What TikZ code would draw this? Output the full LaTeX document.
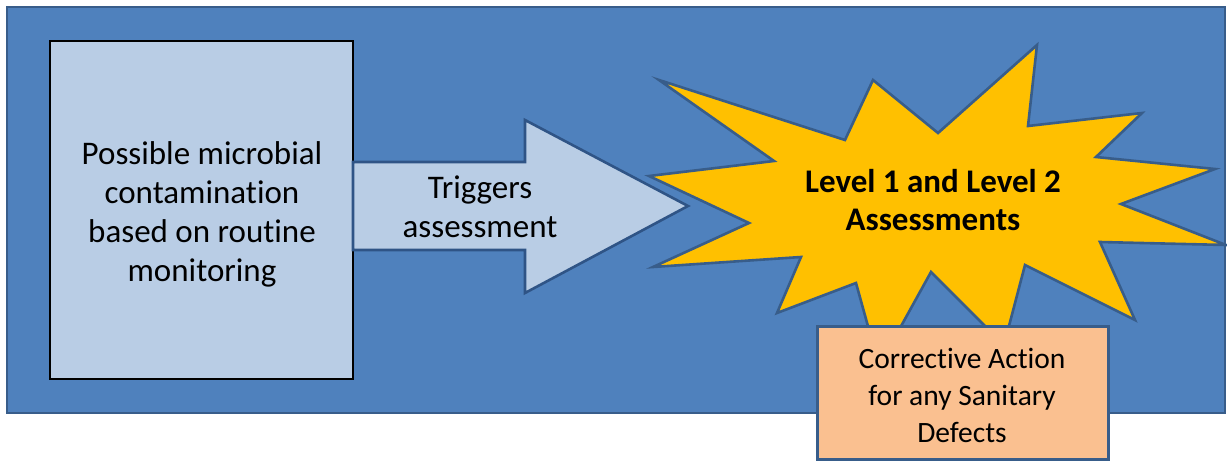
\documentclass[tikz,border=0pt]{standalone}
\usepackage{fontspec}
\setmainfont[RawFeature={-liga;-clig;-dlig;-calt}]{Carlito}
\definecolor{bgblue}{HTML}{4F81BD}
\definecolor{bgborder}{HTML}{385D8A}
\definecolor{lightblue}{HTML}{B9CDE5}
\definecolor{arrowborder}{HTML}{2F5486}
\definecolor{stargold}{HTML}{FFC000}
\definecolor{peach}{HTML}{FAC090}
\tikzset{
  bgpanel/.style={fill=bgblue, draw=bgborder, line width=2pt},
  sourcebox/.style={fill=lightblue, draw=black, line width=1.6pt},
  arrowshape/.style={fill=lightblue, draw=arrowborder, line width=2.6pt, line join=miter},
  starshape/.style={fill=stargold, draw=bgborder, line width=2.6pt, line join=miter},
  actionbox/.style={fill=peach, draw=bgborder, line width=3pt},
  txt/.style={align=center, font=\fontsize{33}{39}\selectfont, inner sep=0pt},
  txtsmall/.style={align=center, font=\fontsize{29.5}{37}\selectfont, inner sep=0pt},
}
\begin{document}
\begin{tikzpicture}[x=1pt,y=-1pt]
\useasboundingbox (0,0) rectangle (1227,461);
% background panel
\draw[bgpanel] (7,7) rectangle (1225,413);
% source box
\draw[sourcebox] (50,41) rectangle (353,379);
\node[txt] (src) at (202,214) {Possible microbial\\contamination\\based on routine\\monitoring};
% starburst
\draw[starshape] (659,80) -- (845,140) -- (873,80) -- (938,133) -- (1037,45) -- (1028,126)
  -- (1142,113) -- (1096,157) -- (1215,169) -- (1121,204) -- (1226,245) -- (1100,242)
  -- (1135,320) -- (1025,265) -- (1004,345) -- (931,272) -- (879,366) -- (856,283)
  -- (777,313) -- (801,257) -- (653,267) -- (749,223) -- (649,176) -- (774,161) -- cycle;
\node[txt, font=\fontsize{33}{38}\selectfont\bfseries] (star) at (933,200) {Level 1 and Level 2\\Assessments};
% arrow
\draw[arrowshape] (353,162) -- (525,162) -- (525,120) -- (688,206) -- (525,293) -- (525,250) -- (353,250) -- cycle;
\node[txt] (trig) at (480,207) {Triggers\\assessment};
% corrective action box
\draw[actionbox] (817,326) rectangle (1108,459);
\node[txtsmall] (act) at (962,395.5) {Corrective Action\\for any Sanitary\\Defects};
\end{tikzpicture}
\end{document}
